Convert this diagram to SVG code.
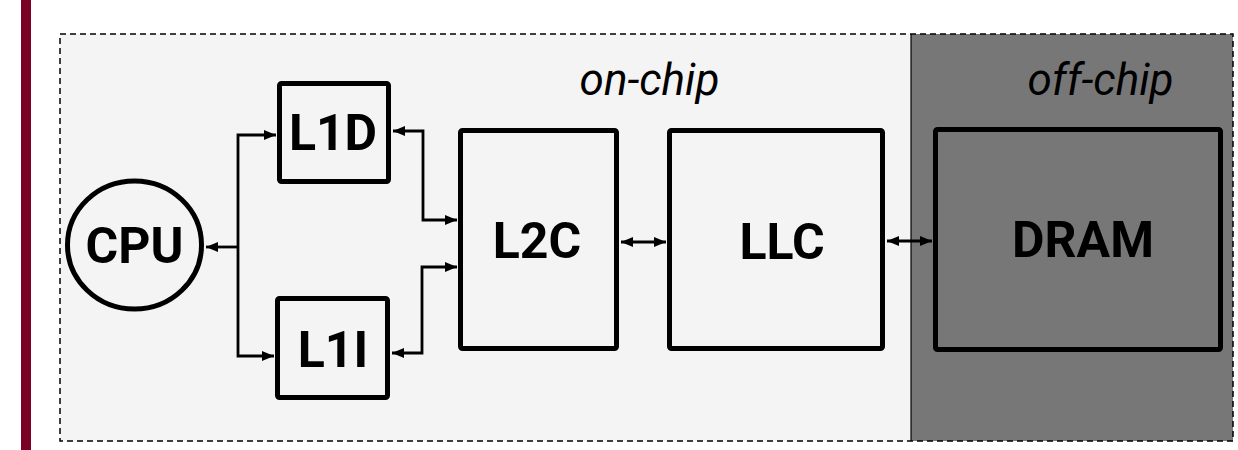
<svg xmlns="http://www.w3.org/2000/svg" width="1238" height="450" viewBox="0 0 1238 450">
  <style>
    .box { fill: none; stroke: #000; stroke-width: 5; }
    .lbl { font-family: Roboto, "Liberation Sans", sans-serif; font-weight: bold; font-size: 50px; text-anchor: middle; fill: #000; }
    .region { font-family: Roboto, "Liberation Sans", sans-serif; font-style: italic; font-size: 44px; text-anchor: middle; fill: #000; }
    .conn { fill: none; stroke: #000; stroke-width: 2.8; }
  </style>
  <defs>
    <marker id="arr" markerUnits="userSpaceOnUse" markerWidth="12" markerHeight="10" refX="12" refY="5" orient="auto-start-reverse">
      <path d="M0,0 L12,5 L0,10 z" fill="#000"/>
    </marker>
  </defs>
  <rect x="0" y="0" width="1238" height="450" fill="#fff"/>
  <rect x="21" y="0" width="10" height="450" fill="#7a0026"/>

  <g id="regions">
    <rect x="60" y="34" width="851" height="407" fill="#f4f4f4"/>
    <rect x="911" y="34" width="322" height="407" fill="#777777"/>
    <line x1="911" y1="34" x2="911" y2="441" stroke="#000" stroke-width="1.2"/>
    <rect x="60" y="34" width="1173" height="407" fill="none" stroke="#000" stroke-width="1.5" stroke-dasharray="6,4"/>
    <text class="region" x="649.5" y="95">on-chip</text>
    <text class="region" x="1100.5" y="95">off-chip</text>
  </g>

  <g id="cpu">
    <ellipse cx="134.5" cy="245" rx="67" ry="64" class="box"/>
    <text class="lbl" x="134.5" y="263">CPU</text>
  </g>
  <g id="l1d">
    <rect x="279.5" y="83.5" width="109" height="98" rx="2" class="box"/>
    <text class="lbl" x="333" y="150">L1D</text>
  </g>
  <g id="l1i">
    <rect x="277.5" y="298.5" width="110" height="99" rx="2" class="box"/>
    <text class="lbl" x="333" y="367">L1I</text>
  </g>
  <g id="l2c">
    <rect x="460.5" y="130.5" width="156" height="218" rx="2" class="box"/>
    <text class="lbl" x="537" y="258">L2C</text>
  </g>
  <g id="llc">
    <rect x="669.5" y="130.5" width="213" height="218" rx="2" class="box"/>
    <text class="lbl" x="782" y="259">LLC</text>
  </g>
  <g id="dram">
    <rect x="935.5" y="129.5" width="285" height="220" rx="2" class="box"/>
    <text class="lbl" x="1083" y="257">DRAM</text>
  </g>

  <g id="connectors">
    <path class="conn" d="M276,135 H238 V356 H274" marker-start="url(#arr)" marker-end="url(#arr)"/>
    <path class="conn" d="M238,247 H206" marker-end="url(#arr)"/>
    <path class="conn" d="M393,131 H423 V220 H457" marker-start="url(#arr)" marker-end="url(#arr)"/>
    <path class="conn" d="M392,353 H422 V267 H457" marker-start="url(#arr)" marker-end="url(#arr)"/>
    <path class="conn" d="M621,242 H666" marker-start="url(#arr)" marker-end="url(#arr)"/>
    <path class="conn" d="M887,241 H932" marker-start="url(#arr)" marker-end="url(#arr)"/>
  </g>
</svg>
